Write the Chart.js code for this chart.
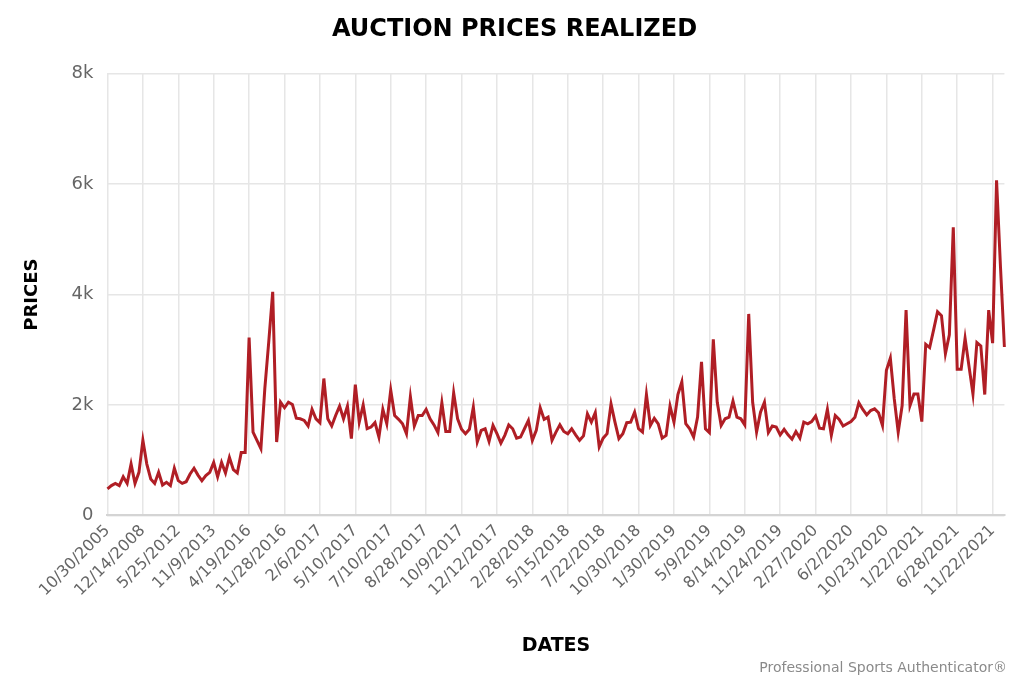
<!DOCTYPE html>
<html lang="en">
<head>
    <meta charset="UTF-8">
    <title>Auction Prices Realized</title>
    <script src="https://cdn.jsdelivr.net/npm/chart.js"></script>
    <style>
        html, body { margin: 0; padding: 0; background: #fff; }
        #wrap { position: relative; width: 1024px; height: 683px; }
        #credit {
            position: absolute; right: 17px; top: 659px;
            font: 14px "DejaVu Sans", sans-serif; color: #8a8a8a;
        }
    </style>
</head>
<body>
    <div id="wrap">
        <canvas id="myChart" width="1024" height="683"></canvas>
        <div id="credit">Professional Sports Authenticator®</div>
    </div>

    <script>
        // dates shown on the x axis (one every 9 sales)
        const tickLabels = ['10/30/2005', '12/14/2008', '5/25/2012', '11/9/2013', '4/19/2016', '11/28/2016',
            '2/6/2017', '5/10/2017', '7/10/2017', '8/28/2017', '10/9/2017', '12/12/2017', '2/28/2018',
            '5/15/2018', '7/22/2018', '10/30/2018', '1/30/2019', '5/9/2019', '8/14/2019', '11/24/2019',
            '2/27/2020', '6/2/2020', '10/23/2020', '1/22/2021', '6/28/2021', '11/22/2021'];
        const labelStep = 9;

        // realized prices, in dollars
        const prices = [
            480, 540, 580, 540, 700, 580, 930, 580, 780, 1360,
            930, 660, 580, 780, 550, 600, 540, 855, 630, 580,
            610, 750, 855, 730, 630, 720, 780, 960, 700, 960,
            770, 1050, 830, 770, 1140, 1140, 3220, 1510, 1360, 1210,
            2300, 3150, 4050, 1330, 2050, 1950, 2050, 2010, 1760, 1750,
            1720, 1620, 1920, 1750, 1680, 2480, 1750, 1620, 1810, 1980,
            1750, 1980, 1390, 2370, 1690, 2000, 1570, 1600, 1680, 1420,
            1920, 1660, 2270, 1810, 1740, 1660, 1480, 2150, 1620, 1810,
            1810, 1920, 1750, 1640, 1500, 2040, 1520, 1520, 2220, 1750,
            1560, 1480, 1560, 1960, 1330, 1540, 1570, 1340, 1630, 1480,
            1310, 1450, 1640, 1570, 1400, 1420, 1570, 1720, 1360, 1540,
            1950, 1740, 1780, 1360, 1510, 1640, 1520, 1480, 1570, 1460,
            1360, 1440, 1840, 1690, 1860, 1240, 1400, 1480, 2020, 1690,
            1390, 1480, 1680, 1690, 1870, 1570, 1510, 2190, 1630, 1760,
            1660, 1400, 1450, 1980, 1690, 2190, 2420, 1660, 1570, 1420,
            1780, 2780, 1570, 1500, 3190, 2050, 1630, 1750, 1780, 2070,
            1780, 1750, 1640, 3650, 2050, 1510, 1870, 2050, 1500, 1620,
            1600, 1460, 1560, 1460, 1380, 1520, 1400, 1690, 1660, 1700,
            1800, 1580, 1570, 1920, 1450, 1810, 1740, 1620, 1660, 1700,
            1780, 2040, 1920, 1820, 1900, 1930, 1860, 1630, 2630, 2850,
            2110, 1510, 1990, 3720, 1990, 2200, 2200, 1700, 3100, 3040,
            3360, 3690, 3620, 2930, 3270, 5220, 2650, 2650, 3210, 2700,
            2200, 3130, 3070, 2190, 3720, 3120, 6070, 4500, 3050
        ];

        // category labels: a date every labelStep points, blank otherwise
        const dates = prices.map((p, i) => i % labelStep === 0 ? (tickLabels[i / labelStep] || '') : '');

        const FONT = '"DejaVu Sans", sans-serif';

        const config = {
            type: 'line',
            data: {
                labels: dates,
                datasets: [{
                    label: 'Price',
                    data: prices,
                    borderColor: '#b01e25',
                    borderWidth: 3,
                    pointRadius: 0,
                    tension: 0,
                    fill: false
                }]
            },
            options: {
                responsive: false,
                animation: false,
                layout: { padding: { left: 22, right: 17, top: 0, bottom: 26 } },
                plugins: {
                    legend: { display: false },
                    tooltip: { enabled: false },
                    title: {
                        display: true,
                        text: 'AUCTION PRICES REALIZED',
                        color: '#000',
                        font: { family: FONT, size: 24, weight: 'bold' },
                        padding: { top: 15, bottom: 30 }
                    }
                },
                scales: {
                    x: {
                        grid: {
                            color: ctx => ctx.index % labelStep === 0 ? '#e6e6e6' : 'rgba(0,0,0,0)',
                            lineWidth: 1.5,
                            drawTicks: false
                        },
                        border: { color: '#d4d4d4', width: 2 },
                        ticks: {
                            autoSkip: false,
                            minRotation: 45,
                            maxRotation: 45,
                            padding: 6,
                            color: '#666',
                            font: { family: FONT, size: 16 }
                        },
                        title: {
                            display: true,
                            text: 'DATES',
                            color: '#000',
                            font: { family: FONT, size: 19, weight: 'bold' },
                            padding: { top: 28, bottom: 0 }
                        }
                    },
                    y: {
                        min: 0,
                        max: 8000,
                        grid: { color: '#e6e6e6', lineWidth: 1.5, drawTicks: false },
                        border: { display: false },
                        ticks: {
                            stepSize: 2000,
                            padding: 14,
                            color: '#666',
                            font: { family: FONT, size: 18 },
                            callback: v => v === 0 ? '0' : (v / 1000) + 'k'
                        },
                        title: {
                            display: true,
                            text: 'PRICES',
                            color: '#000',
                            font: { family: FONT, size: 18, weight: 'bold' },
                            padding: { top: 0, bottom: 14 }
                        }
                    }
                }
            }
        };

        const ctx = document.getElementById('myChart').getContext('2d');
        const myChart = new Chart(ctx, config);
    </script>
</body>
</html>
